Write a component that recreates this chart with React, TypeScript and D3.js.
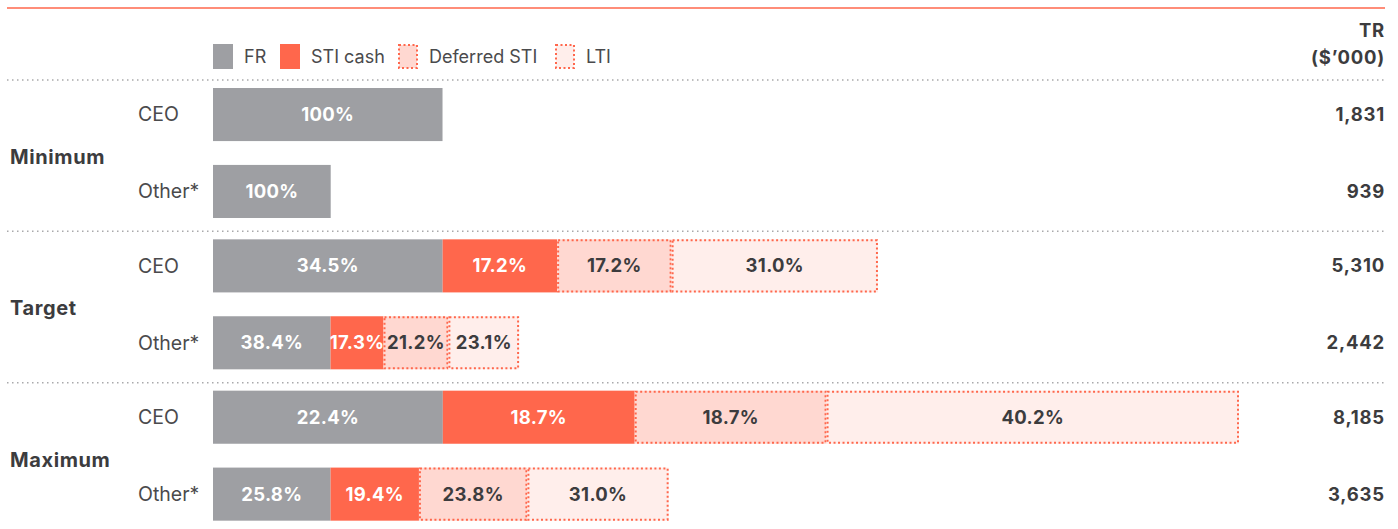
import React from 'react';
import * as d3 from 'd3';

const groups = ['Minimum', 'Target', 'Maximum'];
const roles = ['CEO', 'Other*'];
const components = ['FR', 'STI cash', 'Deferred STI', 'LTI'];

// share of TR per row, order: Min CEO, Min Other, Target CEO, Target Other, Max CEO, Max Other
const frPct = [100, 100, 34.5, 38.4, 22.4, 25.8];
const stiCashPct = [0, 0, 17.2, 17.3, 18.7, 19.4];
const deferredStiPct = [0, 0, 17.2, 21.2, 18.7, 23.8];
const ltiPct = [0, 0, 31.0, 23.1, 40.2, 31.0];
const totalRemuneration = [1831, 939, 5310, 2442, 8185, 3635];

const W = 1398;
const H = 529;
const FONT = 'Inter, "Noto Sans", sans-serif';
const ORANGE = '#ff674c';
const DARK = '#3c3c3e';

const fills = ['#9e9fa3', ORANGE, '#ffd8d1', '#ffeeeb'];
const dotted = [false, false, true, true];
const labelColor = ['#ffffff', '#ffffff', DARK, DARK];

const App: React.FC = () => {
    const x = d3.scaleLinear().domain([0, 8185]).range([213, 1239]);
    const yGroup = d3.scaleBand<string>().domain(groups).range([80, 534]);
    const yRole = d3.scaleBand<string>().domain(roles).range([8, 138]).paddingInner(0.31);

    const pcts = [frPct, stiCashPct, deferredStiPct, ltiPct];

    const rows = totalRemuneration.map((tr, i) => {
        const group = groups[Math.floor(i / 2)];
        const role = roles[i % 2];
        const top = (yGroup(group) ?? 0) + (yRole(role) ?? 0);
        let acc = 0;
        const segs = pcts.map((p, k) => {
            const v = (p[i] / 100) * tr;
            const s = { k, x0: x(acc), x1: x(acc + v), pct: p[i] };
            acc += v;
            return s;
        }).filter(s => s.pct > 0);
        return { tr, group, role, top, segs };
    });

    const bh = yRole.bandwidth();
    const fmt = d3.format(',');
    const legendX = [213, 280, 398, 555];

    return (
        <svg width={W} height={H} style={{ position: 'absolute', left: 0, top: 0 }} fontFamily={FONT}>
            <line x1={7} x2={1385} y1={8} y2={8} stroke={ORANGE} strokeWidth={1.5} />

            {/* legend */}
            {components.map((c, k) => (
                <g key={c} transform={`translate(${legendX[k]},44)`}>
                    <rect x={dotted[k] ? 1 : 0} y={dotted[k] ? 1 : 0} width={dotted[k] ? 18 : 20} height={dotted[k] ? 23 : 25}
                        fill={fills[k]} stroke={dotted[k] ? ORANGE : 'none'} strokeWidth={2} strokeDasharray="2 2.5" />
                    <text x={31} y={13} dy="0.35em" fontSize={18} fill="#4a4a4c">{c}</text>
                </g>
            ))}

            <text x={1385} y={31} dy="0.35em" textAnchor="end" fontSize={18.5} fontWeight={700} letterSpacing={0.8} fill={DARK}>TR</text>
            <text x={1385} y={58} dy="0.35em" textAnchor="end" fontSize={18.5} fontWeight={700} letterSpacing={0.8} fill={DARK}>($’000)</text>

            {groups.map(g => (
                <g key={g}>
                    <line x1={7} x2={1385} y1={yGroup(g)} y2={yGroup(g)} stroke="#a9a9ab" strokeWidth={1.5} strokeDasharray="1.5 3.5" />
                    <text x={10} y={(yGroup(g) ?? 0) + 77} dy="0.35em" fontSize={20} fontWeight={700} letterSpacing={0.6} fill={DARK}>{g}</text>
                </g>
            ))}

            {rows.map((r, i) => (
                <g key={i}>
                    <text x={138} y={r.top + bh / 2} dy="0.35em" fontSize={19.5} fill="#4a4a4c">{r.role}</text>
                    {r.segs.map(s => (
                        <g key={s.k}>
                            <rect x={s.x0} y={r.top} width={s.x1 - s.x0} height={bh} fill={fills[s.k]} />
                            {dotted[s.k] && (
                                <rect x={s.x0 + 1} y={r.top + 1} width={s.x1 - s.x0 - 2} height={bh - 2} fill="none"
                                    stroke={ORANGE} strokeWidth={2} strokeDasharray="2 2.5" />
                            )}
                            <text x={(s.x0 + s.x1) / 2} y={r.top + bh / 2} dy="0.35em" textAnchor="middle"
                                fontSize={18.5} fontWeight={700} letterSpacing={0.3} fill={labelColor[s.k]}>
                                {s.pct === 100 ? '100%' : `${s.pct.toFixed(1)}%`}
                            </text>
                        </g>
                    ))}
                    <text x={1385} y={r.top + bh / 2} dy="0.35em" textAnchor="end" fontSize={18.5} fontWeight={700}
                        letterSpacing={0.8} fill={DARK}>
                        {fmt(r.tr)}
                    </text>
                </g>
            ))}
        </svg>
    );
};

export default App;
